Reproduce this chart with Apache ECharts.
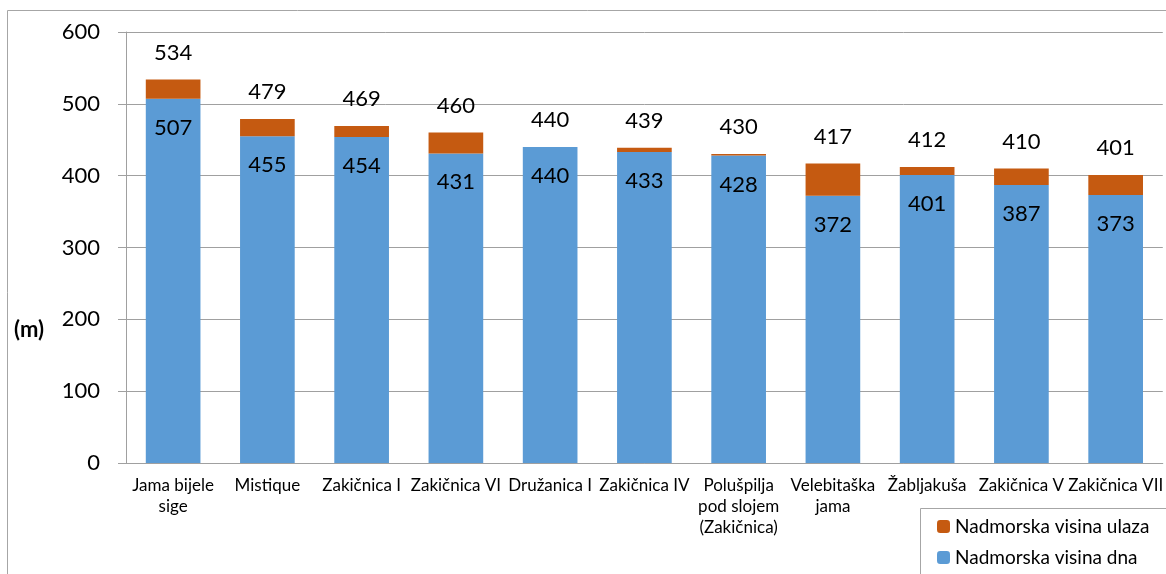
<!DOCTYPE html>
<html>
<head>
<meta charset="utf-8">
<script src="https://cdn.jsdelivr.net/npm/echarts@6/dist/echarts.min.js"></script>
<style>
  html, body { margin: 0; padding: 0; background: #fff; }
  #chart { width: 1166px; height: 574px; }
</style>
</head>
<body>
<div id="chart"></div>
<script>
// kategorije (špilje / jame)
var categories = ["Jama bijele\nsige", "Mistique", "Zakičnica I", "Zakičnica VI", "Družanica I", "Zakičnica IV",
    "Polušpilja\npod slojem\n(Zakičnica)", "Velebitaška\njama", "Žabljakuša", "Zakičnica V", "Zakičnica VII"];
var visinaDna = [507, 455, 454, 431, 440, 433, 428, 372, 401, 387, 373];     // Nadmorska visina dna
var visinaUlaza = [534, 479, 469, 460, 440, 439, 430, 417, 412, 410, 401];   // Nadmorska visina ulaza
var yTicks = [0, 100, 200, 300, 400, 500, 600];

// razlika ulaz - dno (narančasti dio stupca)
var razlika = visinaUlaza.map(function (v, i) { return v - visinaDna[i]; });

var font = "Lato, 'Open Sans', sans-serif";
var chart = echarts.init(document.getElementById("chart"));

var option = {
    animation: false,
    textStyle: {fontFamily: font},
    graphic: [
        {type: "rect", shape: {x: 7.5, y: 10.5, width: 1300, height: 700},
            style: {fill: "none", stroke: "#a6a6a6", lineWidth: 1}, silent: true},
        {type: "rect", shape: {x: 920.5, y: 508.5, width: 400, height: 100},
            style: {fill: "#fff", stroke: "#a6a6a6", lineWidth: 1}, silent: true, z: 5},
        {type: "text", left: 14, top: 319, z: 10,
            style: {text: "(m)", font: "bold 22px " + font, fill: "#000"}}
    ],
    legend: {
        orient: "vertical",
        left: 932,
        top: 512,
        z: 10,
        itemWidth: 13,
        itemHeight: 13,
        itemGap: 12,
        textStyle: {fontSize: 19, color: "#000", fontFamily: font},
        data: ["Nadmorska visina ulaza", "Nadmorska visina dna"]
    },
    grid: {left: 126, right: 0, top: 32, bottom: 111, containLabel: false},
    xAxis: {
        type: "category",
        data: categories,
        axisLine: {lineStyle: {color: "#a0a0a0"}},
        axisTick: {length: 6, lineStyle: {color: "#a0a0a0"}},
        axisLabel: {color: "#000", fontSize: 17, lineHeight: 21, margin: 12, interval: 0, fontFamily: font}
    },
    yAxis: {
        type: "value",
        min: yTicks[0],
        max: yTicks[yTicks.length - 1],
        interval: 100,
        axisLine: {show: true, lineStyle: {color: "#a0a0a0"}},
        axisTick: {show: true, length: 8, lineStyle: {color: "#a0a0a0"}},
        axisLabel: {color: "#000", fontSize: 22, margin: 26, fontFamily: font},
        splitLine: {lineStyle: {color: "#a0a0a0"}}
    },
    series: [
        {
            name: "Nadmorska visina dna",
            type: "bar",
            stack: "v",
            barWidth: "58%",
            data: visinaDna,
            itemStyle: {color: "#5B9BD5"},
            label: {show: true, position: "insideTop", distance: 18, color: "#000", fontSize: 22, fontFamily: font}
        },
        {
            name: "Nadmorska visina ulaza",
            type: "bar",
            stack: "v",
            barWidth: "58%",
            data: razlika,
            itemStyle: {color: "#C55A11"},
            label: {
                show: true, position: "top", distance: 16, color: "#000", fontSize: 22, fontFamily: font,
                formatter: function (p) { return visinaUlaza[p.dataIndex]; }
            }
        }
    ]
};

chart.setOption(option);
</script>
</body>
</html>
